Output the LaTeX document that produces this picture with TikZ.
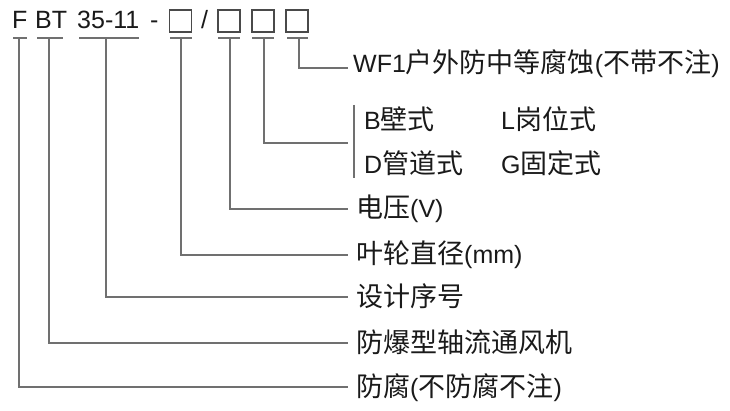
\documentclass[tikz,border=0pt]{standalone}
\usepackage{fontspec}
\setmainfont{Liberation Sans}
\newfontfamily\cjk{Noto Sans CJK SC}
\newcommand\zh[1]{{\cjk\fontsize{27}{31}\selectfont #1}}
\definecolor{textc}{HTML}{1A1A1A}
\definecolor{linec}{HTML}{707070}
\definecolor{boxc}{HTML}{4A4A4A}
\begin{document}
\begin{tikzpicture}[x=1pt,y=-1pt,
  txt/.style={anchor=base west, inner sep=0pt, text=textc, font=\fontsize{25}{29}\selectfont},
  ln/.style={draw=linec, line width=1.2pt},
  bx/.style={draw=boxc, line width=1.3pt, minimum width=22pt, minimum height=22pt, inner sep=0pt}]
\fill[white] (0,0) rectangle (730,411);
\useasboundingbox (0,0) rectangle (730,411);
% top code
\node[txt] (f) at (12,29) {F};
\node[txt] (bt) at (35,29) {BT};
\node[txt] (num) at (77,29) {35-11};
\node[txt] (dash) at (150,29) {-};
\node[bx] (b1) at (180.5,21) {};
\node[txt] (sl) at (201,29) {/};
\node[bx] (b2) at (229,21) {};
\node[bx] (b3) at (263,21) {};
\node[bx] (b4) at (297,21) {};
% underlines
\draw[ln] (13,38) -- (27,38);
\draw[ln] (37,38) -- (63,38);
\draw[ln] (79,38) -- (139,38);
\draw[ln] (170,38) -- (192,38);
\draw[ln] (218,38) -- (240,38);
\draw[ln] (252,38) -- (274,38);
\draw[ln] (287,38) -- (308,38);
\coordinate (uf) at (19,38);
\coordinate (ubt) at (49,38);
\coordinate (unum) at (106,38);
\coordinate (u1) at (181,38);
\coordinate (u2) at (230,38);
\coordinate (u3) at (264,38);
\coordinate (u4) at (299,38);
% line ends
\coordinate (e4) at (348,68);
\coordinate (e3) at (348,143);
\coordinate (e2) at (348,209);
\coordinate (e1) at (348,255);
\coordinate (enum) at (348,297);
\coordinate (ebt) at (348,343);
\coordinate (ef) at (348,387);
% labels
\node[txt] (l4) at (353,73) {WF1\zh{户外防中等腐蚀}(\zh{不带不注})};
\node[txt] (lb) at (364,130) {B\zh{壁式}};
\node[txt] (ll) at (501,130) {L\zh{岗位式}};
\node[txt] (ld) at (364,174) {D\zh{管道式}};
\node[txt] (lg) at (501,174) {G\zh{固定式}};
\node[txt] (l2) at (356,218) {\zh{电压}(V)};
\node[txt] (l1) at (356,264) {\zh{叶轮直径}(mm)};
\node[txt] (lnum) at (356,306) {\zh{设计序号}};
\node[txt] (lbt) at (356,352) {\zh{防爆型轴流通风机}};
\node[txt] (lf) at (356,396) {\zh{防腐}(\zh{不防腐不注})};
% bracket
\coordinate (bt1) at (354,105);
\coordinate (bt2) at (354,178);
\draw[ln] (bt1) -- (bt2);
% connectors
\draw[ln] (u4) |- (e4);
\draw[ln] (u3) |- (e3);
\draw[ln] (u2) |- (e2);
\draw[ln] (u1) |- (e1);
\draw[ln] (unum) |- (enum);
\draw[ln] (ubt) |- (ebt);
\draw[ln] (uf) |- (ef);
\end{tikzpicture}
\end{document}
